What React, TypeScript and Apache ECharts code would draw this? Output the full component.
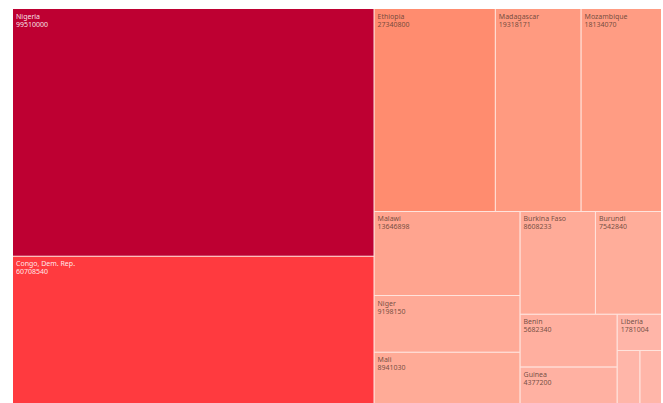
import React, { useEffect, useRef } from "react";
import * as echarts from "echarts";

const countries = [
  "Nigeria",
  "Congo, Dem. Rep.",
  "Ethiopia",
  "Madagascar",
  "Mozambique",
  "Malawi",
  "Niger",
  "Mali",
  "Burkina Faso",
  "Burundi",
  "Benin",
  "Guinea",
  "Liberia",
  "Sierra Leone",
  "Togo",
];

const populations = [
  99510000, 60708540, 27340800, 19318171, 18134070, 13646898, 9198150, 8941030,
  8608233, 7542840, 5682340, 4377200, 1781004, 1440000, 1370000,
];

// colour scale stops (value -> rgb)
const colorStopValues = [0, 8000000, 13600000, 19300000, 27300000, 60700000, 99500000];
const colorStopRgb: number[][] = [
  [255, 184, 172],
  [255, 172, 153],
  [255, 164, 143],
  [255, 154, 128],
  [255, 140, 111],
  [255, 58, 63],
  [190, 0, 50],
];

function colorFor(v: number): string {
  for (let i = 0; i < colorStopValues.length - 1; i++) {
    const a = colorStopValues[i];
    const b = colorStopValues[i + 1];
    if (v <= b || i === colorStopValues.length - 2) {
      const t = Math.max(0, Math.min(1, (v - a) / (b - a)));
      const c0 = colorStopRgb[i];
      const c1 = colorStopRgb[i + 1];
      const c = c0.map((x, k) => Math.round(x + (c1[k] - x) * t));
      return `rgb(${c[0]},${c[1]},${c[2]})`;
    }
  }
  return "#ccc";
}

export default function App() {
  const ref = useRef<HTMLDivElement>(null);
  useEffect(() => {
    document.body.style.margin = "0";
    const chart = echarts.init(ref.current!, null, { renderer: "svg" });
    const data = countries.map((name, i) => {
      const v = populations[i];
      const dark = v > 50000000;
      const labelled = v > 1700000;
      return {
        name,
        value: v,
        itemStyle: { color: colorFor(v) },
        label: {
          show: labelled,
          color: dark ? "rgba(255,255,255,0.9)" : "rgba(90,60,50,0.85)",
        },
      };
    });
    chart.setOption({
      animation: false,
      backgroundColor: "#ffffff",
      series: [
        {
          type: "treemap",
          left: 13,
          top: 9,
          width: 648,
          height: 398,
          roam: false,
          nodeClick: false,
          breadcrumb: { show: false },
          squareRatio: 0.5 * (1 + Math.sqrt(5)),
          sort: "desc",
          label: {
            show: true,
            position: "insideTopLeft",
            formatter: "{b}\n{c}",
            fontSize: 7,
            lineHeight: 8,
            fontFamily: "Noto Sans",
            padding: [3, 3],
          },
          levels: [
            {
              itemStyle: {
                borderWidth: 0,
                gapWidth: 1,
                borderColor: "#ffe3dc",
              },
            },
            {
              itemStyle: { borderWidth: 0, gapWidth: 0 },
            },
          ],
          data,
        },
      ],
    });
    return () => chart.dispose();
  }, []);
  return (
    <div
      ref={ref}
      style={{ position: "fixed", left: 0, top: 0, width: 663, height: 403 }}
    />
  );
}
